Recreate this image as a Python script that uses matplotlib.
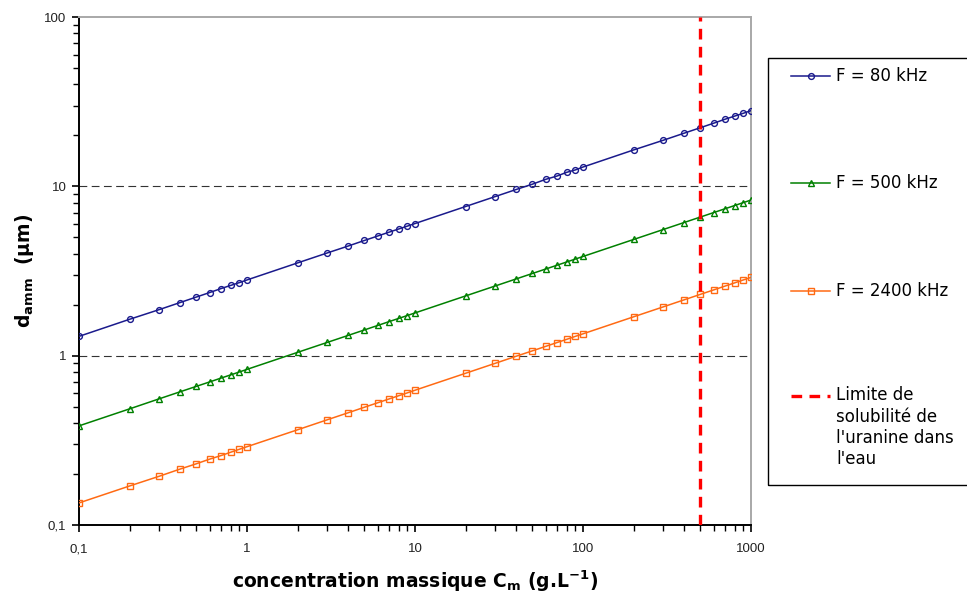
import numpy as np
import matplotlib
matplotlib.use("Agg")
import matplotlib.pyplot as plt
from matplotlib.lines import Line2D
from matplotlib.patches import Rectangle
from matplotlib.ticker import FixedLocator, FixedFormatter, LogLocator, NullFormatter

# ----------------------
# Données
# ----------------------
conc = [0.1, 0.2, 0.3, 0.4, 0.5, 0.6, 0.7, 0.8, 0.9, 1,
        2, 3, 4, 5, 6, 7, 8, 9, 10,
        20, 30, 40, 50, 60, 70, 80, 90, 100,
        200, 300, 400, 500, 600, 700, 800, 900, 1000]

d_80khz = [1.30, 1.64, 1.87, 2.06, 2.22, 2.36, 2.49, 2.60, 2.70, 2.80,
           3.53, 4.04, 4.44, 4.79, 5.09, 5.36, 5.60, 5.82, 6.03,
           7.60, 8.70, 9.58, 10.3, 11.0, 11.5, 12.1, 12.5, 13.0,
           16.4, 18.7, 20.6, 22.2, 23.6, 24.9, 26.0, 27.0, 28.0]

d_500khz = [0.385, 0.485, 0.556, 0.612, 0.659, 0.700, 0.737, 0.770, 0.801, 0.830,
            1.046, 1.197, 1.317, 1.419, 1.508, 1.588, 1.660, 1.726, 1.788,
            2.253, 2.579, 2.839, 3.058, 3.249, 3.420, 3.576, 3.719, 3.853,
            4.854, 5.556, 6.115, 6.588, 7.000, 7.370, 7.705, 8.014, 8.300]

d_2400khz = [0.135, 0.170, 0.194, 0.214, 0.230, 0.245, 0.257, 0.269, 0.280, 0.290,
             0.365, 0.418, 0.460, 0.496, 0.527, 0.555, 0.580, 0.603, 0.625,
             0.787, 0.901, 0.992, 1.068, 1.135, 1.195, 1.249, 1.300, 1.346,
             1.696, 1.941, 2.137, 2.302, 2.446, 2.575, 2.692, 2.800, 2.900]

limite_solubilite = 500

x_ticks = [0.1, 1, 10, 100, 1000]
x_ticklabels = ["0,1", "1", "10", "100", "1000"]
y_ticks = [0.1, 1, 10, 100]
y_ticklabels = ["0,1", "1", "10", "100"]

series = [
    (d_80khz, "F = 80 kHz", "#1a1a8c", "o"),
    (d_500khz, "F = 500 kHz", "#008000", "^"),
    (d_2400khz, "F = 2400 kHz", "#ff6a13", "s"),
]

W, H = 967, 598
fig = plt.figure(figsize=(W / 100, H / 100), dpi=100)
ax = fig.add_axes([79 / W, 1 - 525 / H, (751 - 79) / W, (525 - 17) / H])

# ----------------------
# Courbes
# ----------------------
for vals, lab, col, mk in series:
    ax.plot(conc, vals, color=col, lw=1.1, marker=mk, ms=4.2,
            mfc="none", mec=col, mew=1.0, zorder=3)

ax.axvline(limite_solubilite, color="#ff0000", lw=2.4, dashes=(3.2, 2.2), zorder=4)

# grille horizontale (décades)
for yv in [1, 10]:
    ax.axhline(yv, color="#333333", lw=0.8, dashes=(7, 4), zorder=1)

ax.set_xscale("log")
ax.set_yscale("log")
ax.set_xlim(0.1, 1000)
ax.set_ylim(0.1, 100)

ax.xaxis.set_major_locator(FixedLocator(x_ticks))
ax.xaxis.set_major_formatter(FixedFormatter(x_ticklabels))
ax.yaxis.set_major_locator(FixedLocator(y_ticks))
ax.yaxis.set_major_formatter(FixedFormatter(y_ticklabels))
ax.xaxis.set_minor_locator(LogLocator(base=10, subs=np.arange(2, 10)))
ax.yaxis.set_minor_locator(LogLocator(base=10, subs=np.arange(2, 10)))
ax.xaxis.set_minor_formatter(NullFormatter())
ax.yaxis.set_minor_formatter(NullFormatter())

ax.tick_params(which="major", direction="out", length=5, width=1.2, color="black")
ax.tick_params(which="minor", direction="out", length=4, width=1.0, color="black")
ax.tick_params(axis="x", which="major", pad=8)
ax.tick_params(axis="y", which="major", pad=4)
for t in ax.get_xticklabels() + ax.get_yticklabels():
    t.set_fontfamily("Liberation Sans")
    t.set_fontsize(9.5)
    t.set_color("#222222")

for s in ["left", "bottom"]:
    ax.spines[s].set_linewidth(1.4)
    ax.spines[s].set_color("black")
for s in ["top", "right"]:
    ax.spines[s].set_linewidth(1.4)
    ax.spines[s].set_color("#a8a8a8")

ax.set_xlabel(r"concentration massique C$_\mathbf{m}$ (g.L$^\mathbf{-1}$)",
              fontsize=13.5, fontweight="bold", labelpad=10)
ax.set_ylabel(r"d$_\mathbf{amm}$  (µm)", fontsize=13.5, fontweight="bold", labelpad=6)

# ----------------------
# Légende (cadre à droite)
# ----------------------
def fx(px):
    return px / W

def fy(py):
    return 1 - py / H

fig.add_artist(Rectangle((fx(768), fy(485)), fx(1000) - fx(768), fy(58) - fy(485),
                         transform=fig.transFigure, fill=False, ec="black", lw=1.0,
                         clip_on=False))

entries_y = [76, 183, 291]
for (vals, lab, col, mk), yy in zip(series, entries_y):
    fig.add_artist(Line2D([fx(791), fx(830)], [fy(yy), fy(yy)], transform=fig.transFigure,
                          color=col, lw=1.1))
    fig.add_artist(Line2D([fx(810.5)], [fy(yy)], transform=fig.transFigure, color=col,
                          marker=mk, ms=4.2, mfc="none", mec=col, mew=1.0))
    fig.text(fx(836), fy(yy), lab, fontsize=12, va="center", ha="left")

fig.add_artist(Line2D([fx(791), fx(830)], [fy(396), fy(396)], transform=fig.transFigure,
                      color="#ff0000", lw=2.4, dashes=(3.2, 2.2)))
fig.text(fx(836), fy(386), "Limite de\nsolubilité de\nl'uranine dans\nl'eau",
         fontsize=12, va="top", ha="left", linespacing=1.25)

fig.savefig("out.png", dpi=100)
